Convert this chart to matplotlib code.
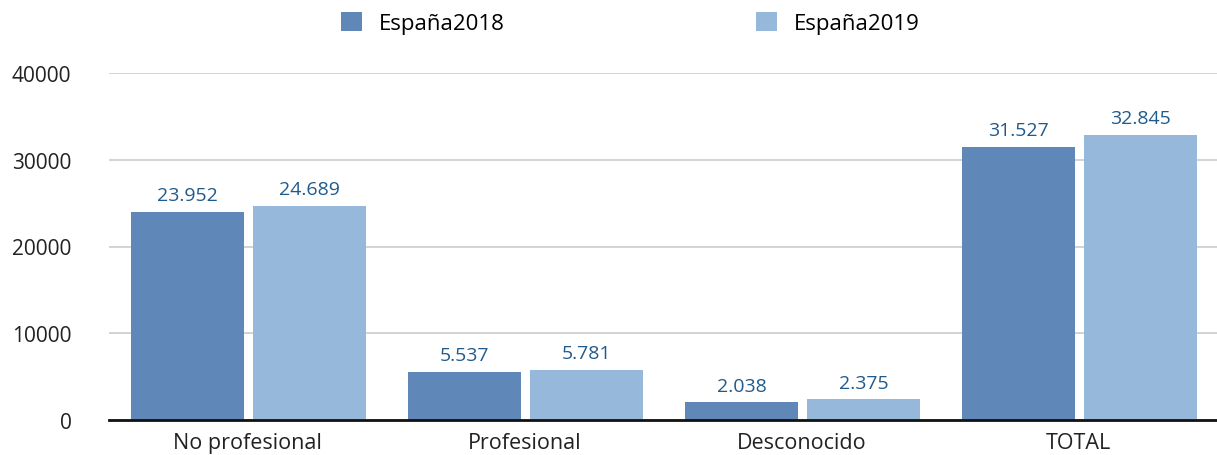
import matplotlib
matplotlib.use("Agg")
import matplotlib.pyplot as plt
import numpy as np

categories = ["No profesional", "Profesional", "Desconocido", "TOTAL"]
series_names = ["España2018", "España2019"]
values_2018 = [23952, 5537, 2038, 31527]
values_2019 = [24689, 5781, 2375, 32845]
yticks = [0, 10000, 20000, 30000, 40000]

colors = ["#5f87b8", "#96b8db"]
label_color = "#1f5a8c"

plt.rcParams["font.family"] = ["Open Sans", "DejaVu Sans"]

fig = plt.figure(figsize=(12.17, 4.56), dpi=100)
ax = fig.add_axes([109 / 1217, 35 / 456, 1 - 109 / 1217, (421 - 74) / 456])

x = np.arange(len(categories))
width = 0.408
offset = 0.22

def fmt(v):
    return f"{v:,}".replace(",", ".")

for vals, off, col, name in [(values_2018, -offset, colors[0], series_names[0]),
                             (values_2019, offset, colors[1], series_names[1])]:
    bars = ax.bar(x + off + 0.004, vals, width, color=col, label=name, zorder=2)
    for b, v in zip(bars, vals):
        ax.text(b.get_x() + b.get_width() / 2, v + 900, fmt(v), ha="center",
                va="bottom", fontsize=14, color=label_color)

ax.set_xlim(-0.5, len(categories) - 0.5)
ax.set_ylim(0, 40000)
ax.set_yticks(yticks)
ax.set_yticklabels([str(t) for t in yticks], fontsize=15, color="#222222")
ax.set_xticks(x)
ax.set_xticklabels(categories, fontsize=15.5, color="#222222")
ax.tick_params(axis="both", length=0)
ax.tick_params(axis="y", pad=27)
ax.tick_params(axis="x", pad=9)
ax.yaxis.grid(True, color="#cccccc", linewidth=1.2, zorder=0)
ax.set_axisbelow(True)
for s in ["top", "right", "left"]:
    ax.spines[s].set_visible(False)
ax.spines["bottom"].set_color("#111111")
ax.spines["bottom"].set_linewidth(2)
ax.spines["bottom"].set_zorder(3)

leg = fig.legend(loc="upper center", bbox_to_anchor=(0.518, 1.015), ncol=2, frameon=False,
                 fontsize=16, handlelength=0.95, handleheight=0.95, columnspacing=11.3,
                 handletextpad=0.75)

fig.savefig("out.png", dpi=100)
